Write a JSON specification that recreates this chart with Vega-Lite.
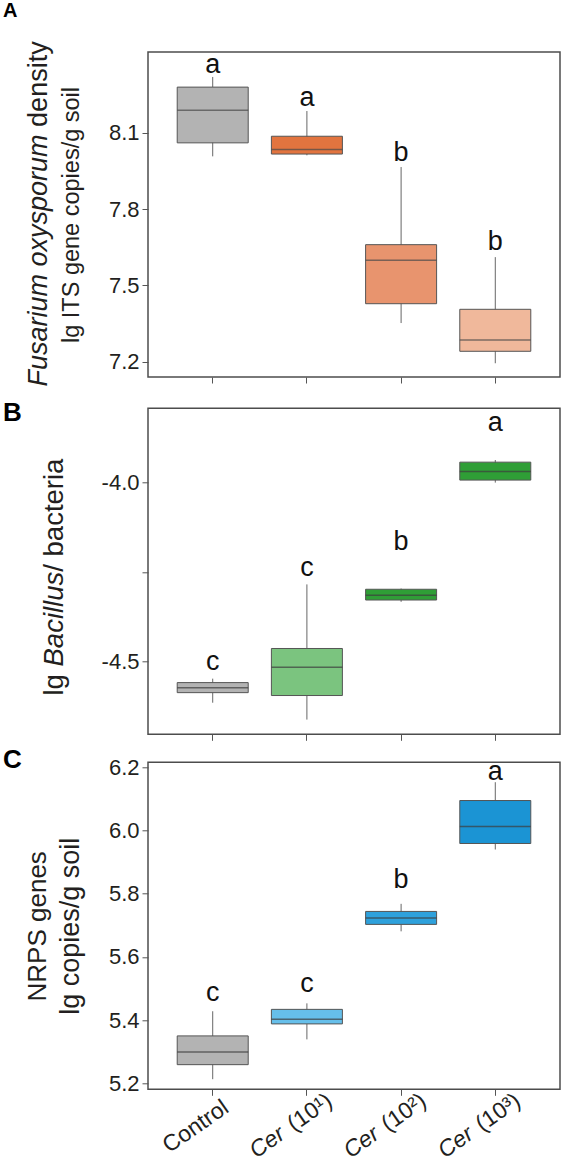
{
  "$schema": "https://vega.github.io/schema/vega-lite/v6.json",
  "padding": {"left": 2, "top": 0, "right": 0, "bottom": 0},
  "datasets": {
    "A": [
      {"grp": "Control", "min": 8.007, "q1": 8.060, "med": 8.188, "q3": 8.279, "max": 8.319, "sig": "a", "sig_y": 8.336},
      {"grp": "Cer (10¹)", "min": 8.011, "q1": 8.016, "med": 8.034, "q3": 8.086, "max": 8.185, "sig": "a", "sig_y": 8.205},
      {"grp": "Cer (10²)", "min": 7.352, "q1": 7.428, "med": 7.599, "q3": 7.660, "max": 7.965, "sig": "b", "sig_y": 7.989},
      {"grp": "Cer (10³)", "min": 7.194, "q1": 7.241, "med": 7.285, "q3": 7.406, "max": 7.611, "sig": "b", "sig_y": 7.638}
    ],
    "B": [
      {"grp": "Control", "min": -4.614, "q1": -4.586, "med": -4.572, "q3": -4.558, "max": -4.547, "sig": "c", "sig_y": -4.523},
      {"grp": "Cer (10¹)", "min": -4.661, "q1": -4.594, "med": -4.515, "q3": -4.463, "max": -4.2845, "sig": "c", "sig_y": -4.261},
      {"grp": "Cer (10²)", "min": -4.333, "q1": -4.328, "med": -4.315, "q3": -4.298, "max": -4.296, "sig": "b", "sig_y": -4.189},
      {"grp": "Cer (10³)", "min": -4.001, "q1": -3.994, "med": -3.970, "q3": -3.944, "max": -3.938, "sig": "a", "sig_y": -3.856}
    ],
    "C": [
      {"grp": "Control", "min": 5.213, "q1": 5.259, "med": 5.299, "q3": 5.350, "max": 5.428, "sig": "c", "sig_y": 5.460},
      {"grp": "Cer (10¹)", "min": 5.339, "q1": 5.388, "med": 5.403, "q3": 5.434, "max": 5.453, "sig": "c", "sig_y": 5.490},
      {"grp": "Cer (10²)", "min": 5.681, "q1": 5.703, "med": 5.723, "q3": 5.744, "max": 5.768, "sig": "b", "sig_y": 5.818},
      {"grp": "Cer (10³)", "min": 5.940, "q1": 5.959, "med": 6.013, "q3": 6.095, "max": 6.153, "sig": "a", "sig_y": 6.161}
    ]
  },
  "spacing": 12.3,
  "resolve": {"scale": {"color": "independent", "y": "independent", "x": "independent"}},
  "vconcat": [
    {
      "width": 412, "height": 325,
      "title": {"text": "A", "dx": -145, "offset": 0, "baseline": "bottom", "fontSize": 20},
      "data": {"name": "A"},
      "resolve": {"axis": {"x": "independent", "y": "independent"}},
      "layer": [
        {
          "mark": {"type": "rule", "color": "#666666", "strokeWidth": 1},
          "encoding": {
            "x": {"field": "grp", "type": "nominal", "sort": null, "scale": {"paddingInner": 0, "paddingOuter": 0.187}, "axis": {"orient": "bottom", "labels": false, "title": null, "ticks": true}},
            "y": {"field": "min", "type": "quantitative", "scale": {"domain": [7.14, 8.417], "nice": false, "zero": false},
                  "axis": {"orient": "left", "values": [7.2, 7.5, 7.8, 8.1], "format": ".1f", "title": "lg ITS gene copies/g soil", "titleFontSize": 23.5, "titleX": -70, "titleBaseline": "alphabetic", "titleAngle": -90}},
            "y2": {"field": "max"}
          }
        },
        {
          "mark": {"type": "bar", "size": 71, "stroke": "#555555", "strokeWidth": 1},
          "encoding": {
            "x": {"field": "grp", "type": "nominal", "sort": null, "scale": {"paddingInner": 0, "paddingOuter": 0.187}, "axis": null},
            "y": {"field": "q1", "type": "quantitative", "scale": {"domain": [7.14, 8.417], "nice": false, "zero": false},
                  "axis": {"orient": "left", "labels": false, "ticks": false, "title": "Fusarium oxysporum", "titleFontSize": 27, "titleFontStyle": "italic", "titleX": -102, "titleY": 334, "titleAlign": "left", "titleBaseline": "alphabetic", "titleAngle": -90}},
            "y2": {"field": "q3"},
            "color": {"field": "grp", "type": "nominal", "sort": null, "legend": null, "scale": {"domain": ["Control", "Cer (10¹)", "Cer (10²)", "Cer (10³)"], "range": ["#b3b3b3", "#e2743f", "#e8946e", "#f0b89b"]}}
          }
        },
        {
          "mark": {"type": "tick", "size": 71, "thickness": 1.5, "color": "#4a4a4a"},
          "encoding": {
            "x": {"field": "grp", "type": "nominal", "sort": null, "scale": {"paddingInner": 0, "paddingOuter": 0.187}, "axis": null},
            "y": {"field": "med", "type": "quantitative", "scale": {"domain": [7.14, 8.417], "nice": false, "zero": false},
                  "axis": {"orient": "left", "labels": false, "ticks": false, "title": "density", "titleFontSize": 27, "titleX": -102, "titleY": 74.4, "titleAlign": "left", "titleBaseline": "alphabetic", "titleAngle": -90}}
          }
        },
        {
          "mark": {"type": "text", "fontSize": 27, "baseline": "alphabetic", "align": "center", "font": "Liberation Sans", "color": "#111111"},
          "encoding": {
            "x": {"field": "grp", "type": "nominal", "sort": null, "scale": {"paddingInner": 0, "paddingOuter": 0.187}, "axis": null},
            "y": {"field": "sig_y", "type": "quantitative", "scale": {"domain": [7.14, 8.417], "nice": false, "zero": false}, "axis": null},
            "text": {"field": "sig"}
          }
        }
      ]
    },
    {
      "spacing": 3,
      "resolve": {"scale": {"color": "independent", "y": "independent", "x": "independent"}},
      "vconcat": [
        {
          "width": 412, "height": 326,
          "title": {"text": "B", "dx": -145, "offset": -44.1, "baseline": "bottom"},
          "data": {"name": "B"},
          "resolve": {"axis": {"x": "independent", "y": "independent"}},
          "layer": [
            {
              "mark": {"type": "rule", "color": "#666666", "strokeWidth": 1},
              "encoding": {
                "x": {"field": "grp", "type": "nominal", "sort": null, "scale": {"paddingInner": 0, "paddingOuter": 0.187}, "axis": {"orient": "bottom", "labels": false, "title": null, "ticks": true}},
                "y": {"field": "min", "type": "quantitative", "scale": {"domain": [-4.702, -3.794], "nice": false, "zero": false},
                      "axis": {"orient": "left", "values": [-4.5, -4.25, -4.0], "labelExpr": "datum.value == -4.25 ? '' : '-' + format(abs(datum.value), '.1f')", "title": "lg", "titleFontSize": 27.5, "titleX": -86, "titleY": 286.7, "titleAlign": "left", "titleBaseline": "alphabetic", "titleAngle": -90}},
                "y2": {"field": "max"}
              }
            },
            {
              "mark": {"type": "bar", "size": 71, "stroke": "#555555", "strokeWidth": 1},
              "encoding": {
                "x": {"field": "grp", "type": "nominal", "sort": null, "scale": {"paddingInner": 0, "paddingOuter": 0.187}, "axis": null},
                "y": {"field": "q1", "type": "quantitative", "scale": {"domain": [-4.702, -3.794], "nice": false, "zero": false},
                      "axis": {"orient": "left", "labels": false, "ticks": false, "title": "Bacillus", "titleFontSize": 27.5, "titleFontStyle": "italic", "titleX": -86, "titleY": 257.7, "titleAlign": "left", "titleBaseline": "alphabetic", "titleAngle": -90}},
                "y2": {"field": "q3"},
                "color": {"field": "grp", "type": "nominal", "sort": null, "legend": null, "scale": {"domain": ["Control", "Cer (10¹)", "Cer (10²)", "Cer (10³)"], "range": ["#b3b3b3", "#7bc47f", "#2f9e36", "#2f9e36"]}}
              }
            },
            {
              "mark": {"type": "tick", "size": 71, "thickness": 1.5, "color": "#3d3d3d"},
              "encoding": {
                "x": {"field": "grp", "type": "nominal", "sort": null, "scale": {"paddingInner": 0, "paddingOuter": 0.187}, "axis": null},
                "y": {"field": "med", "type": "quantitative", "scale": {"domain": [-4.702, -3.794], "nice": false, "zero": false},
                      "axis": {"orient": "left", "labels": false, "ticks": false, "title": "/ bacteria", "titleFontSize": 27.5, "titleX": -86, "titleY": 162.9, "titleAlign": "left", "titleBaseline": "alphabetic", "titleAngle": -90}}
              }
            },
            {
              "mark": {"type": "text", "fontSize": 27, "baseline": "alphabetic", "align": "center", "font": "Liberation Sans", "color": "#111111"},
              "encoding": {
                "x": {"field": "grp", "type": "nominal", "sort": null, "scale": {"paddingInner": 0, "paddingOuter": 0.187}, "axis": null},
                "y": {"field": "sig_y", "type": "quantitative", "scale": {"domain": [-4.702, -3.794], "nice": false, "zero": false}, "axis": null},
                "text": {"field": "sig"}
              }
            }
          ]
        },
        {
          "width": 412, "height": 327,
          "title": {"text": "C", "dx": -145, "offset": -42.5, "baseline": "bottom"},
          "data": {"name": "C"},
          "resolve": {"axis": {"x": "independent", "y": "independent"}},
          "layer": [
            {
              "mark": {"type": "rule", "color": "#666666", "strokeWidth": 1},
              "encoding": {
                "x": {"field": "grp", "type": "nominal", "sort": null, "scale": {"paddingInner": 0, "paddingOuter": 0.187},
                      "axis": {"orient": "bottom", "title": null, "ticks": true, "labelExpr": "datum.value == 'Control' ? 'Control' : substring(datum.value, 4)",
                               "labelAngle": -35, "labelBaseline": "middle", "labelAlign": {"condition": {"test": "datum.value == 'Control'", "value": "center"}, "value": "left"},
                               "labelPadding": 30.8, "labelOffset": -17, "labelFontSize": 23, "labelOverlap": false, "labelBound": false}},
                "y": {"field": "min", "type": "quantitative", "scale": {"domain": [5.181, 6.216], "nice": false, "zero": false},
                      "axis": {"orient": "left", "values": [5.2, 5.4, 5.6, 5.8, 6.0, 6.2], "format": ".1f", "title": "lg copies/g soil", "titleFontSize": 27, "titleX": -70, "titleBaseline": "alphabetic", "titleAngle": -90}},
                "y2": {"field": "max"}
              }
            },
            {
              "mark": {"type": "bar", "size": 71, "stroke": "#555555", "strokeWidth": 1},
              "encoding": {
                "x": {"field": "grp", "type": "nominal", "sort": null, "scale": {"paddingInner": 0, "paddingOuter": 0.187},
                      "axis": {"orient": "bottom", "title": null, "ticks": true, "tickOpacity": 0, "labelExpr": "datum.value == 'Control' ? '' : 'Cer'",
                               "labelFontStyle": "italic", "labelAngle": -35, "labelBaseline": "middle", "labelAlign": "right",
                               "labelPadding": 35.9, "labelOffset": -24.3, "labelFontSize": 23, "labelOverlap": false, "labelBound": false}},
                "y": {"field": "q1", "type": "quantitative", "scale": {"domain": [5.181, 6.216], "nice": false, "zero": false},
                      "axis": {"orient": "left", "labels": false, "ticks": false, "title": "NRPS genes", "titleFontSize": 26, "titleX": -103, "titleBaseline": "alphabetic", "titleAngle": -90}},
                "y2": {"field": "q3"},
                "color": {"field": "grp", "type": "nominal", "sort": null, "legend": null, "scale": {"domain": ["Control", "Cer (10¹)", "Cer (10²)", "Cer (10³)"], "range": ["#b3b3b3", "#66bfea", "#2ea1dc", "#1b94d4"]}}
              }
            },
            {
              "mark": {"type": "tick", "size": 71, "thickness": 1.5, "color": "#3d3d3d"},
              "encoding": {
                "x": {"field": "grp", "type": "nominal", "sort": null, "scale": {"paddingInner": 0, "paddingOuter": 0.187}, "axis": null},
                "y": {"field": "med", "type": "quantitative", "scale": {"domain": [5.181, 6.216], "nice": false, "zero": false}, "axis": null}
              }
            },
            {
              "mark": {"type": "text", "fontSize": 27, "baseline": "alphabetic", "align": "center", "font": "Liberation Sans", "color": "#111111"},
              "encoding": {
                "x": {"field": "grp", "type": "nominal", "sort": null, "scale": {"paddingInner": 0, "paddingOuter": 0.187}, "axis": null},
                "y": {"field": "sig_y", "type": "quantitative", "scale": {"domain": [5.181, 6.216], "nice": false, "zero": false}, "axis": null},
                "text": {"field": "sig"}
              }
            }
          ]
        }
      ]
    }
  ],
  "config": {
    "background": "#ffffff",
    "view": {"stroke": "#4d4d4d", "strokeWidth": 1.5},
    "title": {"font": "Liberation Sans", "fontSize": 26, "fontWeight": "bold", "anchor": "start", "color": "#000000", "frame": "group"},
    "axis": {
      "domain": false, "grid": false,
      "tickSize": 6, "tickColor": "#555555", "tickWidth": 1,
      "labelPadding": 3, "labelFont": "Liberation Sans", "labelFontSize": 22, "labelColor": "#231f20",
      "titleFont": "Liberation Sans", "titleFontSize": 26, "titleFontWeight": "normal", "titleColor": "#231f20"
    }
  }
}
